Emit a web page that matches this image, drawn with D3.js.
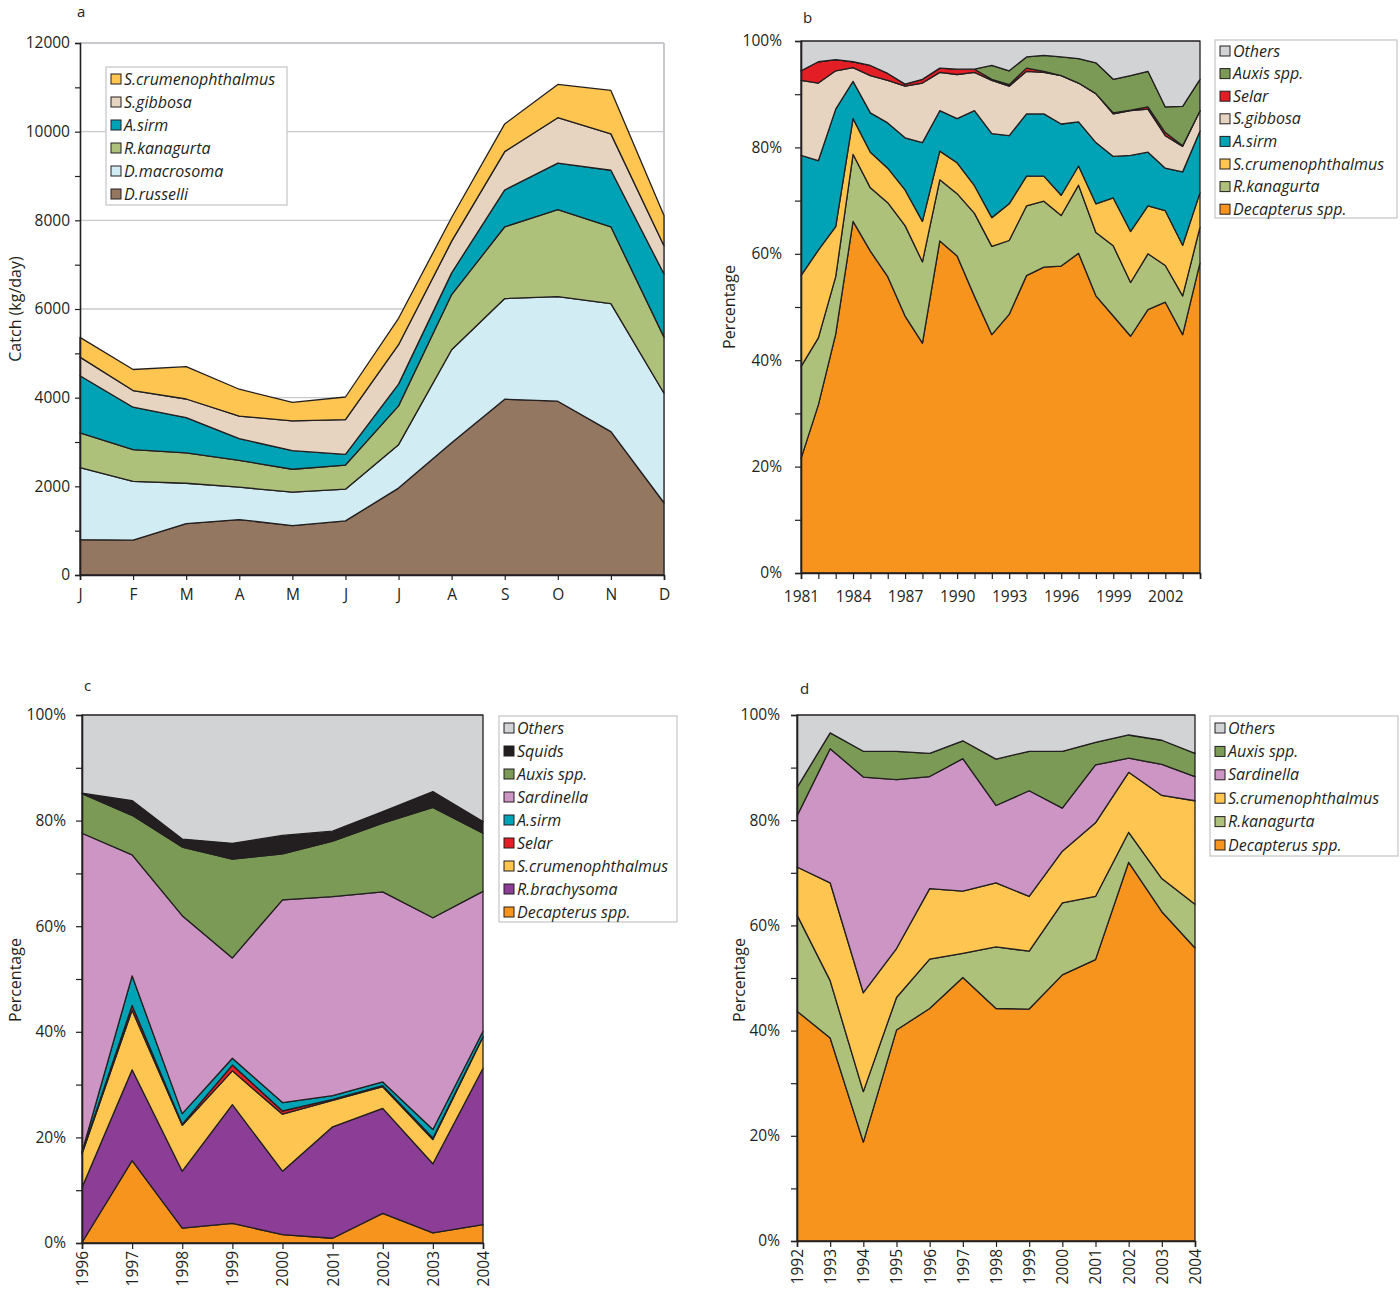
<!DOCTYPE html>
<html>
<head>
<meta charset="utf-8">
<script src="https://cdn.jsdelivr.net/npm/d3@7"></script>
<style>
body { margin: 0; background: #fff; }
text { font-family: "Open Sans", "Noto Sans", sans-serif; fill: #231f20; }
.leg text { font-style: italic; }
</style>
</head>
<body>
<svg id="chart" width="1400" height="1291"></svg>
<script>
// ---- colours per species
var colors = {
    "Others": "#d2d3d5",
    "Squids": "#231f20",
    "Auxis spp.": "#7a9a55",
    "Sardinella": "#cc95c3",
    "Selar": "#e31e25",
    "S.gibbosa": "#e6d4c0",
    "A.sirm": "#00a3b5",
    "S.crumenophthalmus": "#fec650",
    "R.kanagurta": "#adc17a",
    "R.brachysoma": "#8c3d96",
    "Decapterus spp.": "#f7941d",
    "D.macrosoma": "#d1ecf2",
    "D.russelli": "#937760"
};

// ---- panel a : monthly catch (kg/day)
var months = ["J","F","M","A","M","J","J","A","S","O","N","D"];
var aKeys = ["D.russelli","D.macrosoma","R.kanagurta","A.sirm","S.gibbosa","S.crumenophthalmus"];
var aRusselli  = [800, 785, 1160, 1250, 1115, 1220, 1960, 2985, 3965, 3920, 3235, 1630];
var aMacrosoma = [1620, 1325, 910, 730, 755, 715, 980, 2095, 2270, 2360, 2885, 2470];
var aKanagurta = [785, 720, 685, 605, 515, 545, 875, 1245, 1620, 1960, 1735, 1265];
var aSirm      = [1290, 955, 795, 490, 420, 240, 490, 490, 830, 1050, 1275, 1425];
var aGibbosa   = [420, 375, 420, 510, 670, 785, 890, 715, 865, 1025, 820, 635];
var aCrumen    = [445, 475, 730, 605, 420, 510, 595, 535, 625, 750, 980, 685];
var aTicks = [0,1000,2000,3000,4000,5000,6000,7000,8000,9000,10000,11000,12000];

// ---- panel b : yearly composition (%) 1981-2004
var bYears = d3.range(1981, 2005);
var bKeys = ["Decapterus spp.","R.kanagurta","S.crumenophthalmus","A.sirm","S.gibbosa","Selar","Auxis spp.","Others"];
var bDecap  = [21.5,31.6,44.9,66.1,60.5,55.7,48.3,43.2,62.4,59.6,52.0,44.8,48.6,55.9,57.5,57.7,60.1,52.1,48.3,44.5,49.5,50.9,44.8,58.3];
var bKanag  = [17.3,12.6,10.8,12.6,11.9,13.9,17.0,15.3,11.5,11.7,15.6,16.6,13.9,13.1,12.4,9.5,12.8,11.9,13.2,10.1,10.5,6.9,7.3,6.7];
var bCrumen = [17.1,16.5,9.4,6.7,6.7,6.5,6.7,7.6,5.4,5.8,5.2,5.4,6.9,5.6,4.7,3.8,3.6,5.4,9.0,9.6,9.0,10.3,9.5,6.5];
var bSirm   = [22.6,16.8,22.1,7.0,7.4,8.5,9.8,14.8,7.6,8.3,14.1,15.8,12.8,11.7,11.7,13.4,8.3,11.5,7.8,14.3,10.1,8.0,13.8,11.6];
var bGibb   = [14.1,14.6,7.2,2.6,7.0,8.0,9.7,11.2,7.2,8.3,7.2,10.0,9.3,8.0,7.8,9.1,7.3,9.2,8.0,8.4,8.1,6.1,4.8,3.8];
var bSelar  = [1.8,4.0,2.1,1.1,1.9,1.3,0.4,0.7,0.8,1.0,0.6,0.2,0.3,0.6,0.2,0,0,0,0.2,0.1,0.4,0.6,0.1,0];
var bAuxis  = [0,0,0,0,0,0,0,0,0,0,0,2.6,2.6,2.1,3.0,3.5,4.6,5.8,6.3,6.5,6.7,4.8,7.4,5.9];
var bOthers = [5.6,3.9,3.5,3.9,4.6,6.1,8.1,7.2,5.1,5.3,5.3,4.6,5.6,3.0,2.7,3.0,3.3,4.1,7.2,6.5,5.7,12.4,12.3,7.2];
var bLabelYears = [1981,1984,1987,1990,1993,1996,1999,2002];

// ---- panel c : 1996-2004 (%)
var cYears = d3.range(1996, 2005);
var cKeys = ["Decapterus spp.","R.brachysoma","S.crumenophthalmus","Selar","A.sirm","Sardinella","Auxis spp.","Squids","Others"];
var cDecap  = [0.1,15.6,2.8,3.7,1.6,0.9,5.6,1.9,3.5];
var cBrachy = [10.4,17.2,10.8,22.5,12.0,21.1,19.9,13.1,29.6];
var cCrumen = [6.4,11.3,8.7,6.4,10.8,5.0,4.1,4.6,5.9];
var cSelar  = [0.2,0.9,0.2,1.1,0.6,0.2,0.2,0.3,0.1];
var cSirm   = [0.1,5.6,2.0,1.3,1.6,0.7,0.7,1.6,1.0];
var cSard   = [60.4,22.9,37.5,19.0,38.4,37.7,36.0,40.1,26.5];
var cAuxis  = [7.5,7.5,13.0,18.7,8.7,10.5,13.0,20.9,11.0];
var cSquids = [0.1,2.8,1.5,3.0,3.5,1.9,2.2,3.0,2.2];
var cOthers = [14.8,16.2,23.5,24.3,22.8,22.0,18.3,14.5,20.2];

// ---- panel d : 1992-2004 (%)
var dYears = d3.range(1992, 2005);
var dKeys = ["Decapterus spp.","R.kanagurta","S.crumenophthalmus","Sardinella","Auxis spp.","Others"];
var dDecap  = [43.7,38.6,18.8,40.1,44.2,50.1,44.2,44.1,50.6,53.5,72.0,62.6,55.7];
var dKanag  = [18.3,10.9,9.6,6.2,9.4,4.6,11.7,11.0,13.7,12.0,5.7,6.3,8.3];
var dCrumen = [9.1,18.6,18.8,9.3,13.4,11.8,12.2,10.4,9.8,14.0,11.4,15.8,19.7];
var dSard   = [9.7,25.5,41.0,32.1,21.3,25.2,14.7,20.1,8.2,11.0,2.7,5.9,4.6];
var dAuxis  = [5.4,3.0,4.9,5.4,4.4,3.4,8.8,7.5,10.8,4.3,4.4,4.6,4.4];
var dOthers = [13.8,3.4,6.9,6.9,7.3,4.9,8.4,6.9,6.9,5.2,3.8,4.8,7.3];

var pctTicks = [0,10,20,30,40,50,60,70,80,90,100];

var svg = d3.select("#chart");

function buildRows(xs, keys, arrays) {
    return xs.map(function(x, i) {
        var r = { x: x };
        keys.forEach(function(k, j) { r[k] = arrays[j][i]; });
        return r;
    });
}

function drawPanel(p) {
    var g = svg.append("g");
    var x = d3.scaleLinear().domain(d3.extent(p.xs)).range([p.left, p.right]);
    var y = d3.scaleLinear().domain([0, p.yMax]).range([p.bottom, p.top]);

    if (p.grid) {
        g.selectAll("line.grid").data(p.grid).join("line")
            .attr("x1", p.left).attr("x2", p.right)
            .attr("y1", function(d) { return y(d); }).attr("y2", function(d) { return y(d); })
            .attr("stroke", "#c8c9cc").attr("stroke-width", 1.3);
        g.append("line").attr("x1", p.right).attr("x2", p.right)
            .attr("y1", p.top).attr("y2", p.bottom)
            .attr("stroke", "#c8c9cc").attr("stroke-width", 2);
        g.append("line").attr("x1", p.left).attr("x2", p.right)
            .attr("y1", p.top).attr("y2", p.top)
            .attr("stroke", "#c8c9cc").attr("stroke-width", 2);
    }

    var stack = d3.stack().keys(p.keys)(p.rows);
    var area = d3.area()
        .x(function(d) { return x(d.data.x); })
        .y0(function(d) { return y(d[0]); })
        .y1(function(d) { return y(d[1]); });

    g.selectAll("path.layer").data(stack).join("path")
        .attr("class", "layer")
        .attr("d", area)
        .attr("fill", function(d) { return colors[d.key]; })
        .attr("stroke", "#231f20")
        .attr("stroke-width", 1.3)
        .attr("stroke-linejoin", "round");

    // y axis
    var ya = d3.axisLeft(y).tickValues(p.yTicks).tickSize(p.tickLen).tickPadding(p.yPad)
        .tickFormat(p.yFmt);
    var yg = g.append("g").attr("transform", "translate(" + p.left + ",0)").call(ya);
    yg.select(".domain").attr("stroke", "#231f20").attr("stroke-width", 1.6);
    yg.selectAll(".tick line").attr("stroke", "#231f20").attr("stroke-width", 1.2);
    yg.selectAll(".tick text").style("font-size", "15.5px").attr("fill", "#231f20");

    // x axis
    var xa = d3.axisBottom(x).tickValues(p.xTicks).tickSize(p.tickLen).tickPadding(p.xPad)
        .tickFormat(p.xFmt);
    var xg = g.append("g").attr("transform", "translate(0," + p.bottom + ")").call(xa);
    xg.select(".domain").attr("stroke", "#231f20").attr("stroke-width", 1.6);
    xg.selectAll(".tick line").attr("stroke", "#231f20").attr("stroke-width", 1.2);
    xg.selectAll(".tick text").style("font-size", "15.5px").attr("fill", "#231f20");
    if (p.rotate) {
        xg.selectAll(".tick text")
            .attr("transform", "rotate(-90)")
            .attr("text-anchor", "end")
            .attr("x", -(p.tickLen + 2)).attr("y", 0).attr("dy", "0.35em");
    }

    // panel letter and y title
    g.append("text").attr("x", p.letter[0]).attr("y", p.letter[1])
        .style("font-size", "15px").text(p.letterText);
    g.append("text")
        .attr("transform", "translate(" + p.ytitle[0] + "," + p.ytitle[1] + ") rotate(-90)")
        .attr("text-anchor", "middle").attr("dy", "0.35em")
        .style("font-size", "16px").text(p.ytitleText);

    // legend
    var lg = g.append("g").attr("class", "leg");
    var L = p.legend;
    lg.append("rect").attr("x", L.x).attr("y", L.y).attr("width", L.w).attr("height", L.h)
        .attr("fill", "#fff").attr("stroke", "#c8c9cc").attr("stroke-width", 1.3);
    var order = p.keys.slice().reverse();
    var item = lg.selectAll("g.item").data(order).join("g")
        .attr("transform", function(d, i) { return "translate(" + (L.x + 5) + "," + (L.first + i * L.step) + ")"; });
    item.append("rect").attr("x", 0).attr("y", -5).attr("width", 10).attr("height", 10)
        .attr("fill", function(d) { return colors[d]; })
        .attr("stroke", "#231f20").attr("stroke-width", 1);
    item.append("text").attr("x", 13).attr("dy", "0.35em")
        .style("font-size", "16px").text(function(d) { return d; });
}

drawPanel({
    xs: d3.range(12), keys: aKeys,
    rows: buildRows(d3.range(12), aKeys, [aRusselli, aMacrosoma, aKanagurta, aSirm, aGibbosa, aCrumen]),
    left: 80, right: 664, top: 43, bottom: 575, yMax: 12000,
    grid: [2000, 4000, 6000, 8000, 10000],
    yTicks: aTicks, yFmt: function(d) { return d % 2000 === 0 ? d : ""; },
    xTicks: d3.range(12), xFmt: function(i) { return months[i]; },
    tickLen: 5, yPad: 5, xPad: 9,
    letter: [77, 17], letterText: "a",
    ytitle: [15, 309], ytitleText: "Catch (kg/day)",
    legend: { x: 106, y: 67, w: 181, h: 138, first: 79, step: 23 }
});

drawPanel({
    xs: bYears, keys: bKeys,
    rows: buildRows(bYears, bKeys, [bDecap, bKanag, bCrumen, bSirm, bGibb, bSelar, bAuxis, bOthers]),
    left: 801, right: 1200, top: 41, bottom: 573, yMax: 100,
    yTicks: pctTicks, yFmt: function(d) { return d % 20 === 0 ? d + "%" : ""; },
    xTicks: bYears, xFmt: function(d) { return bLabelYears.indexOf(d) >= 0 ? d : ""; },
    tickLen: 6, yPad: 13, xPad: 12,
    letter: [803, 23], letterText: "b",
    ytitle: [729, 307], ytitleText: "Percentage",
    legend: { x: 1215, y: 40, w: 182, h: 178, first: 51, step: 22.6 }
});

drawPanel({
    xs: cYears, keys: cKeys,
    rows: buildRows(cYears, cKeys, [cDecap, cBrachy, cCrumen, cSelar, cSirm, cSard, cAuxis, cSquids, cOthers]),
    left: 82, right: 483, top: 715, bottom: 1243, yMax: 100,
    yTicks: pctTicks, yFmt: function(d) { return d % 20 === 0 ? d + "%" : ""; },
    xTicks: cYears, xFmt: function(d) { return d; }, rotate: true,
    tickLen: 6, yPad: 10, xPad: 6,
    letter: [84, 691], letterText: "c",
    ytitle: [15, 980], ytitleText: "Percentage",
    legend: { x: 499, y: 716, w: 178, h: 206, first: 728, step: 23 }
});

drawPanel({
    xs: dYears, keys: dKeys,
    rows: buildRows(dYears, dKeys, [dDecap, dKanag, dCrumen, dSard, dAuxis, dOthers]),
    left: 797, right: 1195, top: 715, bottom: 1241, yMax: 100,
    yTicks: pctTicks, yFmt: function(d) { return d % 20 === 0 ? d + "%" : ""; },
    xTicks: dYears, xFmt: function(d) { return d; }, rotate: true,
    tickLen: 6, yPad: 11, xPad: 6,
    letter: [800, 694], letterText: "d",
    ytitle: [739, 980], ytitleText: "Percentage",
    legend: { x: 1210, y: 716, w: 188, h: 140, first: 728, step: 23.4 }
});
</script>
</body>
</html>
